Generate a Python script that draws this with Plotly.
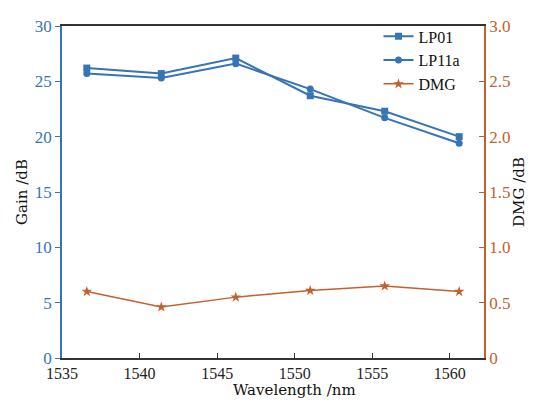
import plotly.graph_objects as go

wavelength = [1536.6, 1541.4, 1546.2, 1551.0, 1555.8, 1560.6]
lp01_gain = [26.2, 25.7, 27.1, 23.7, 22.3, 20.0]
lp11a_gain = [25.7, 25.3, 26.6, 24.3, 21.7, 19.4]
dmg = [0.60, 0.46, 0.55, 0.61, 0.65, 0.60]

left_ticks = [0, 5, 10, 15, 20, 25, 30]
right_ticks = [0, 0.5, 1.0, 1.5, 2.0, 2.5, 3.0]
right_labels = ["0", "0.5", "1.0", "1.5", "2.0", "2.5", "3.0"]
x_ticks = [1535, 1540, 1545, 1550, 1555, 1560]

BLUE = "#3674b5"
ORANGE = "#c0612f"
FONT = "Liberation Serif"
TFONT = "DejaVu Serif"

fig = go.Figure()
fig.add_trace(go.Scatter(x=wavelength, y=lp01_gain, name="LP01", mode="lines+markers",
                         line=dict(color=BLUE, width=2),
                         marker=dict(symbol="square", size=7, color=BLUE)))
fig.add_trace(go.Scatter(x=wavelength, y=lp11a_gain, name="LP11a", mode="lines+markers",
                         line=dict(color=BLUE, width=2),
                         marker=dict(symbol="circle", size=7, color=BLUE)))
fig.add_trace(go.Scatter(x=wavelength, y=dmg, name="DMG", mode="lines+markers", yaxis="y2",
                         line=dict(color=ORANGE, width=1.5),
                         marker=dict(symbol="star", size=8, color=ORANGE)))

fig.update_layout(
    width=536, height=393,
    margin=dict(l=54, r=60, t=11, b=43),
    paper_bgcolor="white", plot_bgcolor="white",
    font=dict(family=FONT, size=17, color="#222222"),
    showlegend=True,
    legend=dict(x=0.75, y=1.02, xanchor="left", yanchor="top",
                bgcolor="rgba(255,255,255,0)", font=dict(family=FONT, size=16, color="#111111"),
                tracegroupgap=0, itemwidth=30),
    xaxis=dict(range=[1535, 1562.2], tickvals=x_ticks, ticks="inside", ticklen=5,
               tickcolor="#333333", showline=True, linecolor="#333333", linewidth=1.5,
               mirror=True, showgrid=False, zeroline=False, automargin=False,
               ticklabelstandoff=0,
               tickfont=dict(family=FONT, size=16, color="#222222")),
    yaxis=dict(range=[0, 30], tickvals=left_ticks, ticks="outside", ticklen=5,
               tickcolor=BLUE, showline=True, linecolor=BLUE, linewidth=1.5,
               showgrid=False, zeroline=False, automargin=False,
               title=dict(text="Gain /dB", font=dict(family=TFONT, size=15, color="#111111"), standoff=4),
               tickfont=dict(family=FONT, size=17, color=BLUE)),
    yaxis2=dict(range=[0, 3], tickvals=right_ticks, ticktext=right_labels, overlaying="y", side="right",
                ticks="inside", ticklen=5, tickcolor=ORANGE, showline=True, linecolor=ORANGE,
                linewidth=1.5, showgrid=False, zeroline=False, automargin=False,
                title=dict(text="DMG /dB", font=dict(family=TFONT, size=15, color="#111111"), standoff=4),
                tickfont=dict(family=FONT, size=17, color=ORANGE)),
    annotations=[dict(text="Wavelength /nm", xref="paper", yref="paper", x=0.552, y=0,
                      xanchor="center", yanchor="top", yshift=-21, showarrow=False,
                      font=dict(family=TFONT, size=15, color="#111111"))],
)

fig.write_html("out.html")
